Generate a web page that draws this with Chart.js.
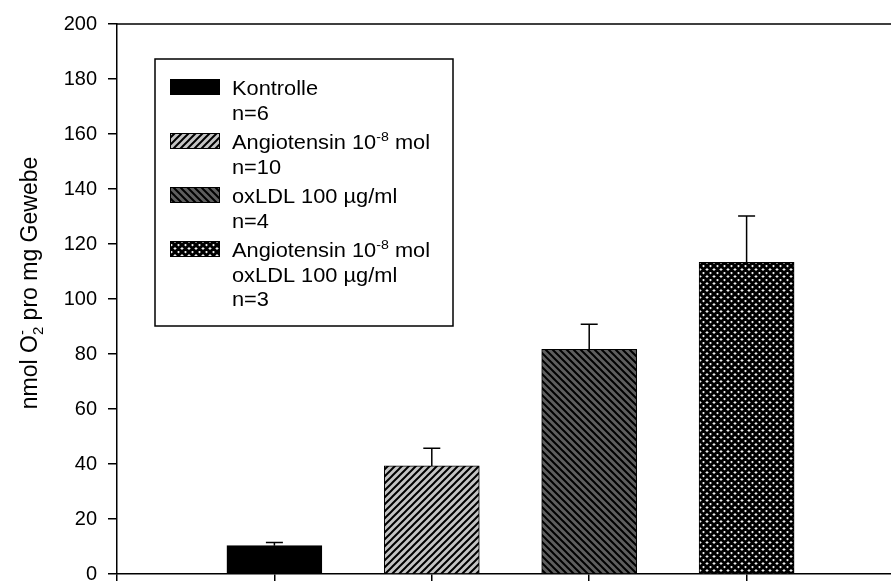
<!DOCTYPE html>
<html>
<head>
<meta charset="utf-8">
<script src="https://cdn.jsdelivr.net/npm/chart.js@4.4.0/dist/chart.umd.min.js"></script>
<style>
    html, body { margin: 0; padding: 0; background: #fff; overflow: hidden; }
    #wrap { width: 891px; height: 581px; overflow: hidden; position: relative; }
    #wrap canvas { position: absolute; left: 0; top: 0; }
</style>
</head>
<body>
<div id="wrap"><canvas id="chart" width="920" height="600" style="width:920px;height:600px"></canvas></div>
<script>
// dados
var categories = ['Kontrolle', 'Angiotensin', 'oxLDL', 'Angiotensin + oxLDL'];
var means      = [10.3, 39.3, 81.7, 113.3];
var errTop     = [11.5, 45.7, 90.8, 130.2];
var yMin = 0, yMax = 200, yStep = 20;
var legendLines = [
    ['Kontrolle', 'n=6'],
    ['Angiotensin 10^{-8} mol', 'n=10'],
    ['oxLDL 100 µg/ml', 'n=4'],
    ['Angiotensin 10^{-8} mol', 'oxLDL 100 µg/ml', 'n=3']
];
var yTitle = 'nmol O_{2}^{-} pro mg Gewebe';

var FONT = 'Arial, "Liberation Sans", sans-serif';

// padroes de hachura
function makePattern(bg, lw, up, down) {
    var s = 7;
    var c = document.createElement('canvas');
    c.width = s; c.height = s;
    var g = c.getContext('2d');
    g.fillStyle = bg;
    g.fillRect(0, 0, s, s);
    g.strokeStyle = '#000';
    g.lineWidth = lw;
    g.beginPath();
    if (up) {
        g.moveTo(0, s); g.lineTo(s, 0);
        g.moveTo(-2, 2); g.lineTo(2, -2);
        g.moveTo(s - 2, s + 2); g.lineTo(s + 2, s - 2);
    }
    if (down) {
        g.moveTo(0, 0); g.lineTo(s, s);
        g.moveTo(-2, s - 2); g.lineTo(2, s + 2);
        g.moveTo(s - 2, -2); g.lineTo(s + 2, 2);
    }
    g.stroke();
    return g.createPattern(c, 'repeat');
}

var fills = [
    '#000000',
    makePattern('#c4c4c4', 2, true, false),
    makePattern('#5e5e5e', 2, false, true),
    makePattern('#f0f0f0', 3, true, true)
];

// texto com ^{sup} e _{sub}
function parseRich(str) {
    var parts = [], re = /([\^_])\{([^}]*)\}/g, last = 0, m;
    while ((m = re.exec(str)) !== null) {
        if (m.index > last) parts.push({ t: str.slice(last, m.index), k: 'n' });
        parts.push({ t: m[2], k: m[1] === '^' ? 'sup' : 'sub' });
        last = re.lastIndex;
    }
    if (last < str.length) parts.push({ t: str.slice(last), k: 'n' });
    return parts;
}

function richWidth(ctx, str, size) {
    var parts = parseRich(str), w = 0, prevSub = 0;
    for (var i = 0; i < parts.length; i++) {
        var p = parts[i];
        var fs = p.k === 'n' ? size : Math.round(size * 0.65);
        ctx.font = fs + 'px ' + FONT;
        var pw = ctx.measureText(p.t).width;
        if (p.k === 'sup' && prevSub) { w += Math.max(0, pw - prevSub); prevSub = 0; continue; }
        prevSub = p.k === 'sub' ? pw : 0;
        w += pw;
    }
    return w;
}

function drawRich(ctx, str, x, y, size) {
    var parts = parseRich(str), subX = null, subW = 0;
    ctx.textBaseline = 'alphabetic';
    ctx.textAlign = 'left';
    for (var i = 0; i < parts.length; i++) {
        var p = parts[i];
        var fs = p.k === 'n' ? size : Math.round(size * 0.65);
        ctx.font = fs + 'px ' + FONT;
        var pw = ctx.measureText(p.t).width;
        var dy = p.k === 'sup' ? -size * 0.42 : (p.k === 'sub' ? size * 0.25 : 0);
        if (p.k === 'sup' && subX !== null) {
            ctx.fillText(p.t, subX, y + dy);
            x = subX + Math.max(pw, subW);
            subX = null;
            continue;
        }
        ctx.fillText(p.t, x, y + dy);
        if (p.k === 'sub') { subX = x; subW = pw; } else { subX = null; }
        x += pw;
    }
}

var extras = {
    id: 'extras',
    afterDatasetsDraw: function (chart) {
        var ctx = chart.ctx, a = chart.chartArea;
        var yS = chart.scales.y;
        var meta = chart.getDatasetMeta(0);
        ctx.save();

        // moldura superior e direita
        ctx.strokeStyle = '#000';
        ctx.lineWidth = 1.5;
        ctx.beginPath();
        ctx.moveTo(a.left, a.top); ctx.lineTo(a.right, a.top); ctx.lineTo(a.right, a.bottom);
        ctx.stroke();

        // barras de erro (so para cima)
        for (var i = 0; i < means.length; i++) {
            var bar = meta.data[i + 1];
            var x = bar.x;
            var y0 = yS.getPixelForValue(means[i]);
            var y1 = yS.getPixelForValue(errTop[i]);
            ctx.beginPath();
            ctx.moveTo(x, y0); ctx.lineTo(x, y1);
            ctx.moveTo(x - 8.5, y1); ctx.lineTo(x + 8.5, y1);
            ctx.stroke();
        }

        // legenda
        var bx = 155, by = 59, bw = 298, bh = 267;
        ctx.fillStyle = '#fff';
        ctx.fillRect(bx, by, bw, bh);
        ctx.lineWidth = 1.5;
        ctx.strokeRect(bx, by, bw, bh);
        var size = 20, lineH = 24.5, gap = 5, ly = 88;
        for (var k = 0; k < legendLines.length; k++) {
            ctx.fillStyle = fills[k];
            ctx.fillRect(170, ly - 9, 50, 16);
            ctx.lineWidth = 1;
            ctx.strokeStyle = '#000';
            ctx.strokeRect(170.5, ly - 8.5, 49, 15);
            ctx.fillStyle = '#000';
            for (var j = 0; j < legendLines[k].length; j++) {
                ctx.save();
                ctx.translate(232, ly + 7);
                ctx.scale(1.09, 1);
                drawRich(ctx, legendLines[k][j], 0, 0, size);
                ctx.restore();
                ly += lineH;
            }
            ly += gap;
        }

        // titulo do eixo y
        var ts = 23;
        var tw = richWidth(ctx, yTitle, ts);
        ctx.translate(37, 283);
        ctx.rotate(-Math.PI / 2);
        ctx.fillStyle = '#000';
        drawRich(ctx, yTitle, -tw / 2, 0, ts);
        ctx.restore();
    }
};

new Chart(document.getElementById('chart'), {
    type: 'bar',
    data: {
        labels: [''].concat(categories, ['']),
        datasets: [{
            data: [null].concat(means, [null]),
            backgroundColor: ['#fff'].concat(fills, ['#fff']),
            borderColor: '#000',
            borderWidth: 1,
            barThickness: 95
        }]
    },
    options: {
        responsive: false,
        animation: false,
        layout: { padding: { top: 24, right: 16, left: 0, bottom: 0 } },
        plugins: { legend: { display: false }, tooltip: { enabled: false } },
        scales: {
            x: {
                offset: false,
                grid: { display: true, offset: false, drawOnChartArea: false, drawTicks: true, tickLength: 8, color: '#000', lineWidth: 1.5 },
                border: { color: '#000', width: 1.5 },
                ticks: { display: false },
                afterFit: function (s) { s.height = 26; }
            },
            y: {
                min: yMin, max: yMax,
                grid: { drawOnChartArea: false, drawTicks: true, tickLength: 9, color: '#000', lineWidth: 1.5 },
                border: { color: '#000', width: 1.5 },
                ticks: { stepSize: yStep, color: '#000', padding: 11, font: { family: FONT, size: 20 } },
                afterFit: function (s) { s.width = 117; }
            }
        }
    },
    plugins: [extras]
});
</script>
</body>
</html>
